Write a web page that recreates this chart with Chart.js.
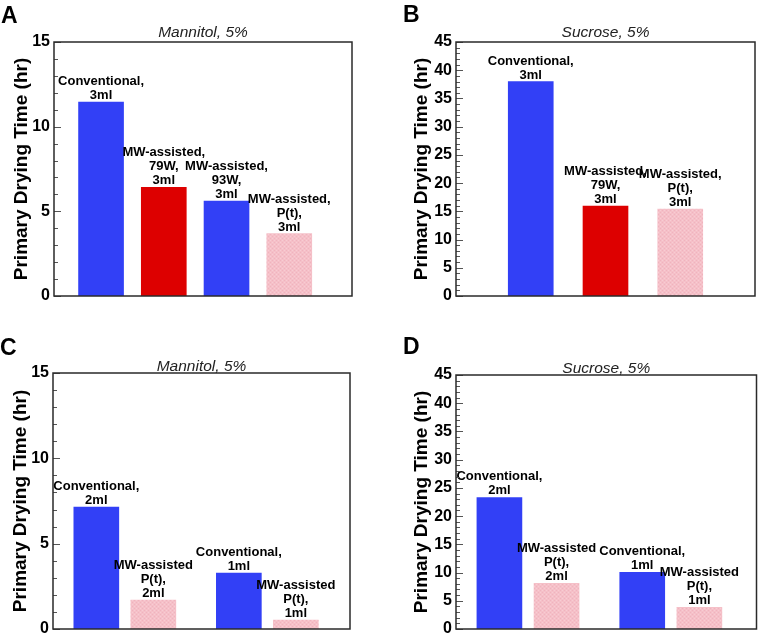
<!DOCTYPE html>
<html lang="en">
<head>
    <meta charset="UTF-8">
    <title>Primary Drying Time</title>
    <script src="https://cdn.jsdelivr.net/npm/chart.js"></script>
    <style>
        body { margin: 0; background: #fff; }
        .panel { position: absolute; }
    </style>
</head>
<body>
    <div class="panel" style="left:0;top:0"><canvas id="chartA" width="380" height="318"></canvas></div>
    <div class="panel" style="left:380px;top:0"><canvas id="chartB" width="378" height="318"></canvas></div>
    <div class="panel" style="left:0;top:318px"><canvas id="chartC" width="380" height="318"></canvas></div>
    <div class="panel" style="left:380px;top:318px"><canvas id="chartD" width="378" height="318"></canvas></div>

    <script>
        // Panel A - Mannitol 5%, 3ml
        const aPositions = [1, 2, 3, 4];
        const aValues = [11.45, 6.42, 5.61, 3.68];
        const aLabels = [
            ["Conventional,", "3ml"],
            ["MW-assisted,", "79W,", "3ml"],
            ["MW-assisted,", "93W,", "3ml"],
            ["MW-assisted,", "P(t),", "3ml"]
        ];

        // Panel B - Sucrose 5%, 3ml
        const bPositions = [1, 2, 3];
        const bValues = [38.0, 15.95, 15.4];
        const bLabels = [
            ["Conventional,", "3ml"],
            ["MW-assisted,", "79W,", "3ml"],
            ["MW-assisted,", "P(t),", "3ml"]
        ];

        // Panel C - Mannitol 5%, 2ml / 1ml
        const cPositions = [1, 2, 3.5, 4.5];
        const cValues = [7.15, 1.7, 3.27, 0.52];
        const cLabels = [
            ["Conventional,", "2ml"],
            ["MW-assisted", "P(t),", "2ml"],
            ["Conventional,", "1ml"],
            ["MW-assisted", "P(t),", "1ml"]
        ];

        // Panel D - Sucrose 5%, 2ml / 1ml
        const dPositions = [1, 2, 3.5, 4.5];
        const dValues = [23.3, 8.1, 10.05, 3.85];
        const dLabels = [
            ["Conventional,", "2ml"],
            ["MW-assisted", "P(t),", "2ml"],
            ["Conventional,", "1ml"],
            ["MW-assisted", "P(t),", "1ml"]
        ];

        const FONT = "'Liberation Sans', Arial, sans-serif";
        const BLUE = "#3240f6";
        const RED = "#dd0000";

        function pinkPattern() {
            const c = document.createElement("canvas");
            c.width = 4; c.height = 4;
            const g = c.getContext("2d");
            g.fillStyle = "#f5c0c8";
            g.fillRect(0, 0, 4, 4);
            g.fillStyle = "#f0b3be";
            g.fillRect(0, 0, 1, 1); g.fillRect(2, 2, 1, 1);
            g.fillStyle = "#f8ccd3";
            g.fillRect(2, 0, 1, 1); g.fillRect(0, 2, 1, 1);
            return g.createPattern(c, "repeat");
        }
        const PINK = pinkPattern();

        // frame, inner ticks, bar annotations, panel letter and title
        function panelPlugin(p) {
            return {
                id: "panel" + p.letter,
                afterDatasetsDraw(chart) {
                    const ctx = chart.ctx;
                    const area = chart.chartArea;
                    const y = chart.scales.y;
                    ctx.save();

                    // bar annotations
                    ctx.fillStyle = "#000";
                    ctx.font = "bold 13px " + FONT;
                    ctx.textAlign = "center";
                    ctx.textBaseline = "alphabetic";
                    chart.getDatasetMeta(0).data.forEach((bar, i) => {
                        const lines = p.labels[i];
                        lines.forEach((t, j) => {
                            ctx.fillText(t, bar.x, bar.y - 3 - (lines.length - 1 - j) * 14);
                        });
                    });

                    // inner ticks on the left axis
                    ctx.strokeStyle = "#555";
                    ctx.lineWidth = 1;
                    for (let v = 0; v <= p.yMax; v++) {
                        const py = Math.round(y.getPixelForValue(v)) + 0.5;
                        const len = v % 5 === 0 ? 7 : 4;
                        ctx.beginPath();
                        ctx.moveTo(area.left, py);
                        ctx.lineTo(area.left + len, py);
                        ctx.stroke();
                    }

                    // frame
                    ctx.strokeStyle = "#2a2a2a";
                    ctx.lineWidth = 1.5;
                    ctx.strokeRect(area.left, area.top, area.right - area.left, area.bottom - area.top);

                    // panel title
                    ctx.fillStyle = "#222";
                    ctx.font = "italic 15.5px " + FONT;
                    ctx.fillText(p.title, (area.left + area.right) / 2, area.top - p.titleGap);

                    // panel letter
                    ctx.fillStyle = "#000";
                    ctx.font = "bold 23px " + FONT;
                    ctx.textAlign = "left";
                    ctx.fillText(p.letter, p.letterX, p.letterY);
                    ctx.restore();
                }
            };
        }

        function makeChart(id, p) {
            const ctx = document.getElementById(id).getContext("2d");
            return new Chart(ctx, {
                type: "bar",
                data: {
                    datasets: [{
                        data: p.positions.map((x, i) => ({ x: x, y: p.values[i] })),
                        backgroundColor: p.colors,
                        borderWidth: 0,
                        barThickness: 45
                    }]
                },
                options: {
                    responsive: false,
                    animation: false,
                    layout: { padding: p.padding },
                    plugins: {
                        legend: { display: false },
                        tooltip: { enabled: false }
                    },
                    scales: {
                        x: { type: "linear", min: p.xMin, max: p.xMax, display: false, offset: false },
                        y: {
                            min: 0,
                            max: p.yMax,
                            grid: { display: false, drawTicks: false },
                            border: { display: false },
                            ticks: {
                                stepSize: 5,
                                autoSkip: false,
                                padding: 4,
                                color: "#000",
                                font: { family: FONT, size: 16, weight: "bold" }
                            },
                            title: {
                                display: true,
                                text: "Primary Drying Time (hr)",
                                color: "#000",
                                font: { family: FONT, size: 19, weight: "bold" },
                                padding: { top: p.titlePad, bottom: 0 }
                            },
                            afterFit(scale) {
                                scale.width = p.axisWidth;
                                scale.paddingTop = 0;
                                scale.paddingBottom = 0;
                            }
                        }
                    }
                },
                plugins: [panelPlugin(p)]
            });
        }

        makeChart("chartA", {
            letter: "A", letterX: 1, letterY: 23, title: "Mannitol, 5%", titleGap: 5,
            positions: aPositions, values: aValues, labels: aLabels,
            colors: [BLUE, RED, BLUE, PINK],
            xMin: 0.25, xMax: 5, yMax: 15,
            padding: { top: 42, bottom: 22, left: 0, right: 28 },
            axisWidth: 54, titlePad: 10
        });

        makeChart("chartB", {
            letter: "B", letterX: 23, letterY: 22, title: "Sucrose, 5%", titleGap: 5,
            positions: bPositions, values: bValues, labels: bLabels,
            colors: [BLUE, RED, PINK],
            xMin: 0, xMax: 4, yMax: 45,
            padding: { top: 42, bottom: 22, left: 0, right: 3 },
            axisWidth: 76, titlePad: 30
        });

        makeChart("chartC", {
            letter: "C", letterX: 0, letterY: 37, title: "Mannitol, 5%", titleGap: 2,
            positions: cPositions, values: cValues, labels: cLabels,
            colors: [BLUE, PINK, BLUE, PINK],
            xMin: 0.24, xMax: 5.45, yMax: 15,
            padding: { top: 55, bottom: 7, left: 0, right: 30 },
            axisWidth: 53, titlePad: 9
        });

        makeChart("chartD", {
            letter: "D", letterX: 23, letterY: 36, title: "Sucrose, 5%", titleGap: 2,
            positions: dPositions, values: dValues, labels: dLabels,
            colors: [BLUE, PINK, BLUE, PINK],
            xMin: 0.24, xMax: 5.5, yMax: 45,
            padding: { top: 57, bottom: 7, left: 0, right: 1.5 },
            axisWidth: 76, titlePad: 30
        });
    </script>
</body>
</html>
